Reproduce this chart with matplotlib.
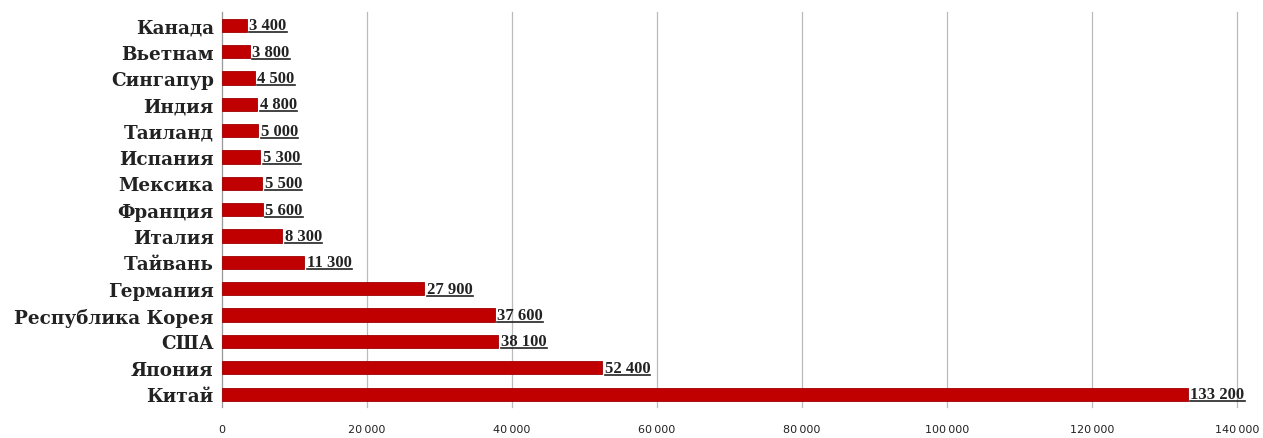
import numpy as np
import matplotlib.pyplot as plt
from matplotlib.lines import Line2D

countries = ["Китай", "Япония", "США", "Республика Корея", "Германия", "Тайвань",
             "Италия", "Франция", "Мексика", "Испания", "Таиланд", "Индия",
             "Сингапур", "Вьетнам", "Канада"]
values = [133200, 52400, 38100, 37600, 27900, 11300, 8300, 5600, 5500, 5300,
          5000, 4800, 4500, 3800, 3400]
xticks = [0, 20000, 40000, 60000, 80000, 100000, 120000, 140000]

fig = plt.figure(figsize=(12.63, 4.39), dpi=100)
ax = fig.add_axes([0.1758, 0.07, 0.8036, 0.9])

y = np.arange(len(countries))
ax.barh(y, values, height=0.5, color='#C00000', edgecolor='#A00000', linewidth=0.6, zorder=3)

labels = []
for yi, v in zip(y, values):
    txt = f"{v:,}".replace(",", " ")
    t = ax.annotate(txt, xy=(v, yi), xytext=(2, 0), textcoords='offset points',
                    va='center', ha='left', family='Liberation Serif',
                    fontweight='bold', fontsize=12, color='#222222', zorder=4)
    labels.append(t)

ax.set_yticks(y)
ax.set_yticklabels(countries, family='DejaVu Serif', fontweight='bold',
                   fontsize=13.2, color='#222222')
ax.set_xticks(xticks)
ax.set_xticklabels([f"{t:,}".replace(",", "\u2009") for t in xticks],
                   fontsize=8, color='#222222')
ax.set_xlim(0, 140000)
ax.set_ylim(-0.5, len(countries) - 0.5)
ax.tick_params(axis='both', length=0, pad=6)
ax.tick_params(axis='x', pad=12)
ax.xaxis.grid(True, color='#BBBBBB', linewidth=0.9, zorder=0)
for gl in ax.get_xgridlines():
    gl.set_clip_on(False)
for s in ['top', 'right', 'bottom']:
    ax.spines[s].set_visible(False)
ax.spines['left'].set_color('#999999')

# underline the value labels
fig.canvas.draw()
inv = fig.transFigure.inverted()
for t in labels:
    bb = t.get_window_extent()
    (x0, y0), (x1, _) = inv.transform([(bb.x0, bb.y0 + 1), (bb.x1, bb.y0)])
    fig.add_artist(Line2D([x0, x1], [y0, y0], color='#222222', linewidth=1.2))

fig.savefig("out.png", dpi=100)
